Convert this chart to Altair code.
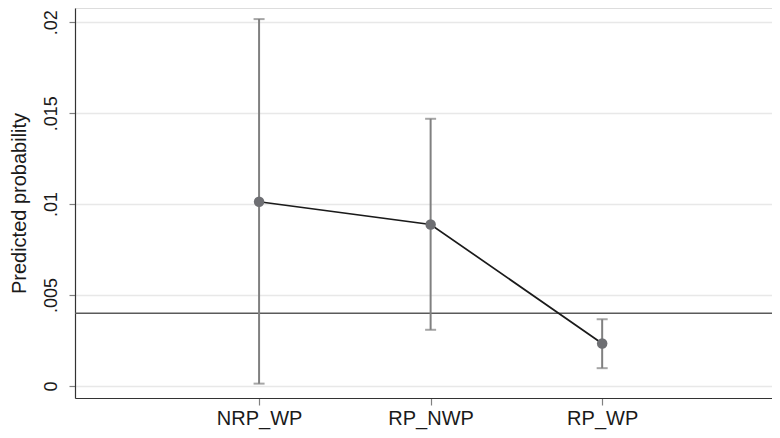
import altair as alt
import pandas as pd

categories = ["NRP_WP", "RP_NWP", "RP_WP"]
positions = [1, 2, 3]
predicted = [0.01013, 0.00888, 0.00234]
ci_lower = [0.00013, 0.00309, 0.00098]
ci_upper = [0.02017, 0.01469, 0.00367]
reference_value = 0.004
y_ticks = [0, 0.005, 0.01, 0.015, 0.02]

df = pd.DataFrame({
    "cat": categories,
    "pos": positions,
    "p": predicted,
    "lo": ci_lower,
    "hi": ci_upper,
})

FONT = "Liberation Sans"
xscale = alt.Scale(domain=[-0.073, 3.99], nice=False, zero=False)
yscale = alt.Scale(domain=[-0.00066, 0.02078], nice=False, zero=False)

label_expr_x = "datum.value == 1 ? 'NRP_WP' : datum.value == 2 ? 'RP_NWP' : datum.value == 3 ? 'RP_WP' : ''"
label_expr_y = "datum.value == 0 ? '0' : replace(format(datum.value, '.3~f'), '0.', '.')"

x_enc = alt.X("pos:Q", scale=xscale, axis=alt.Axis(
    values=positions, labelExpr=label_expr_x, title=None, grid=False,
    domainColor="#333333", domainWidth=1.2, tickColor="#808080", tickWidth=1.2,
    tickSize=7, labelPadding=3, labelFontSize=20, labelFont=FONT,
    labelColor="#1a1a1a"))

y_axis = alt.Axis(
    values=y_ticks, labelExpr=label_expr_y, title="Predicted probability",
    grid=True, gridColor="#e8e8e8", gridWidth=1.5,
    domainColor="#333333", domainWidth=1.2, tickColor="#808080", tickWidth=1.2,
    tickSize=6, labelAngle=270, labelAlign="center", labelBaseline="bottom",
    labelPadding=9, labelFontSize=18, labelFont=FONT, labelColor="#1a1a1a",
    titleFont=FONT, titleFontSize=20, titleFontWeight="normal", titleColor="#1a1a1a",
    titleAngle=270, titleAlign="center", titleBaseline="middle", titleX=-56, titleY=195)

base = alt.Chart(df)

ref = alt.Chart(pd.DataFrame({"r": [reference_value]})).mark_rule(
    color="#5a5a5a", strokeWidth=1.6).encode(y=alt.Y("r:Q", scale=yscale, axis=y_axis))

bars = base.mark_rule(color="#808080", strokeWidth=2).encode(
    x=x_enc, y=alt.Y("lo:Q", scale=yscale), y2="hi:Q")

cap_hi = base.mark_tick(color="#808080", orient="horizontal", size=11, thickness=2).encode(
    x=x_enc, y=alt.Y("hi:Q", scale=yscale))
cap_lo = base.mark_tick(color="#808080", orient="horizontal", size=11, thickness=2).encode(
    x=x_enc, y=alt.Y("lo:Q", scale=yscale))

line = base.mark_line(color="#1a1a1a", strokeWidth=1.7).encode(
    x=x_enc, y=alt.Y("p:Q", scale=yscale))

points = base.mark_circle(color="#6e6f73", opacity=1, size=110).encode(
    x=x_enc, y=alt.Y("p:Q", scale=yscale))

chart = alt.layer(ref, bars, cap_hi, cap_lo, line, points).properties(
    width=697, height=390,
    autosize=alt.AutoSizeParams(type="none"),
    padding={"left": 67, "top": 0, "right": 0, "bottom": 32},
).configure_view(stroke=None).configure(background="white")

chart.save("out.html", embed_options={"renderer": "svg", "actions": False})
